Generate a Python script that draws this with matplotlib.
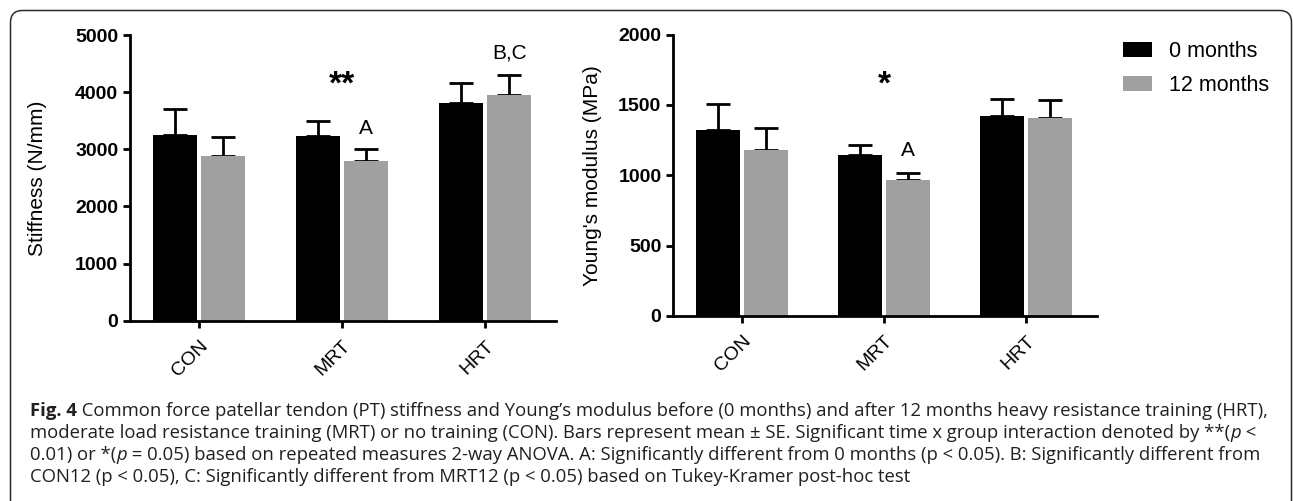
import matplotlib
matplotlib.use("Agg")
import matplotlib.pyplot as plt
import numpy as np
from matplotlib.patches import FancyBboxPatch
from matplotlib.transforms import IdentityTransform

# ---- data ----
groups = ["CON", "MRT", "HRT"]
series_labels = ["0 months", "12 months"]
stiff_0 = [3250, 3232, 3815]
stiff_0_se = [455, 268, 340]
stiff_12 = [2880, 2790, 3945]
stiff_12_se = [330, 216, 355]
young_0 = [1323, 1143, 1423]
young_0_se = [184, 69, 120]
young_12 = [1177, 964, 1404]
young_12_se = [160, 52, 132]
stiff_ticks = [0, 1000, 2000, 3000, 4000, 5000]
young_ticks = [0, 500, 1000, 1500, 2000]

BLACK = "#000000"
GRAY = "#a0a0a0"

plt.rcParams['font.family'] = ['Liberation Sans', 'DejaVu Sans']

W, H = 1293, 501
fig = plt.figure(figsize=(W / 100, H / 100), dpi=100)

def fx(px):
    return px / W

def fy(py):
    return 1 - py / H

axL = fig.add_axes([fx(130), fy(320.7), fx(555.7) - fx(130), fy(35) - fy(320.7)])
axR = fig.add_axes([fx(673.3), fy(316), fx(1097) - fx(673.3), fy(34.5) - fy(316)])

bw = 0.308
off = 0.168
x = np.arange(len(groups))

def draw(ax, v0, e0, v1, e1, ticks, ylabel, ymax, xlim, label_x):
    b0 = ax.bar(x - off, v0, bw, color=BLACK, label=series_labels[0], zorder=2)
    b1 = ax.bar(x + off, v1, bw, color=GRAY, label=series_labels[1], zorder=2)
    for xs, vs, es in [(x - off, v0, e0), (x + off, v1, e1)]:
        ax.errorbar(xs, vs, yerr=[np.zeros(len(vs)), es], fmt='none',
                    ecolor=BLACK, elinewidth=2.0, capsize=8.5, capthick=2.0,
                    zorder=1)
    ax.set_xlim(*xlim)
    ax.set_ylim(0, ymax)
    ax.set_yticks(ticks)
    ax.set_yticklabels([str(t) for t in ticks], fontsize=14, fontweight='bold')
    ax.set_xticks(x)
    ax.set_xticklabels(groups, fontsize=14, rotation=45, ha='right', va='top',
                       rotation_mode='anchor')
    ax.set_ylabel(ylabel, fontsize=15)
    ax.yaxis.set_label_coords(label_x, 0.5)
    for s in ['top', 'right']:
        ax.spines[s].set_visible(False)
    for s in ['left', 'bottom']:
        ax.spines[s].set_linewidth(2.0)
        ax.spines[s].set_capstyle('projecting')
    ax.tick_params(axis='both', width=2.0, length=5, direction='out')
    ax.tick_params(axis='y', pad=3.5)
    ax.tick_params(axis='x', pad=7)
    return b0, b1

b0, b1 = draw(axL, stiff_0, stiff_0_se, stiff_12, stiff_12_se, stiff_ticks,
              "Stiffness (N/mm)", 5000, (-0.483, 2.494), -0.195)
draw(axR, young_0, young_0_se, young_12, young_12_se, young_ticks,
     "Young's modulus (MPa)", 2000, (-0.484, 2.50), -0.168)

# annotations
axL.text(1, 3975, "**", ha='center', va='baseline', fontsize=24, fontweight='bold')
axL.text(1 + off, 3372, "A", ha='center', va='center', fontsize=15)
axL.text(2 + off, 4685, "B,C", ha='center', va='center', fontsize=15)
axR.text(1, 1580, "*", ha='center', va='baseline', fontsize=24, fontweight='bold')
axR.text(1 + off, 1179, "A", ha='center', va='center', fontsize=15)

fig.legend([b0, b1], series_labels, loc='upper left',
           bbox_to_anchor=(fx(1122.7), fy(41)), frameon=False, fontsize=15.5,
           handlelength=1.38, handleheight=0.665, handletextpad=0.78,
           labelspacing=0.6, borderaxespad=0, borderpad=0)

# rounded frame (pixel coordinates)
frame = FancyBboxPatch((10.5, -40), 1281, (H - 10.5) + 40,
                       boxstyle="round,pad=0,rounding_size=12",
                       transform=IdentityTransform(), fill=False,
                       edgecolor="#2b2b2b", linewidth=1.1, clip_on=False)
fig.patches.append(frame)

# caption
cap_family = ['Open Sans', 'DejaVu Sans']
cap_color = "#231f20"
lines = [
    [("Fig. 4", 'bold', 'normal'),
     (" Common force patellar tendon (PT) stiffness and Young\u2019s modulus before (0 months) and after 12 months heavy resistance training (HRT),", 'normal', 'normal')],
    [("moderate load resistance training (MRT) or no training (CON). Bars represent mean \u00b1 SE. Significant time x group interaction denoted by **(", 'normal', 'normal'),
     ("p", 'normal', 'italic'), (" <", 'normal', 'normal')],
    [("0.01) or *(", 'normal', 'normal'), ("p", 'normal', 'italic'),
     (" = 0.05) based on repeated measures 2-way ANOVA. A: Significantly different from 0 months (p < 0.05). B: Significantly different from", 'normal', 'normal')],
    [("CON12 (p < 0.05), C: Significantly different from MRT12 (p < 0.05) based on Tukey-Kramer post-hoc test", 'normal', 'normal')],
]
line_y = [416, 438, 460, 482]
x0 = 30.5
renderer = fig.canvas.get_renderer()

# fit font size so the first line spans the measured width
base = 12.0
tot = 0
for txt, wt, st in lines[0]:
    t = fig.text(0, 0, txt, fontsize=base, fontweight=wt, fontstyle=st,
                 family=cap_family)
    tot += t.get_window_extent(renderer=renderer).width
    t.remove()
cap_size = base * (1232.0 / tot)

for segs, yy in zip(lines, line_y):
    xpos = x0
    for txt, wt, st in segs:
        t = fig.text(fx(xpos), fy(yy), txt, fontsize=cap_size, fontweight=wt,
                     fontstyle=st, family=cap_family, color=cap_color,
                     ha='left', va='baseline')
        bb = t.get_window_extent(renderer=renderer)
        xpos += bb.width

fig.savefig("out.png", dpi=100)
